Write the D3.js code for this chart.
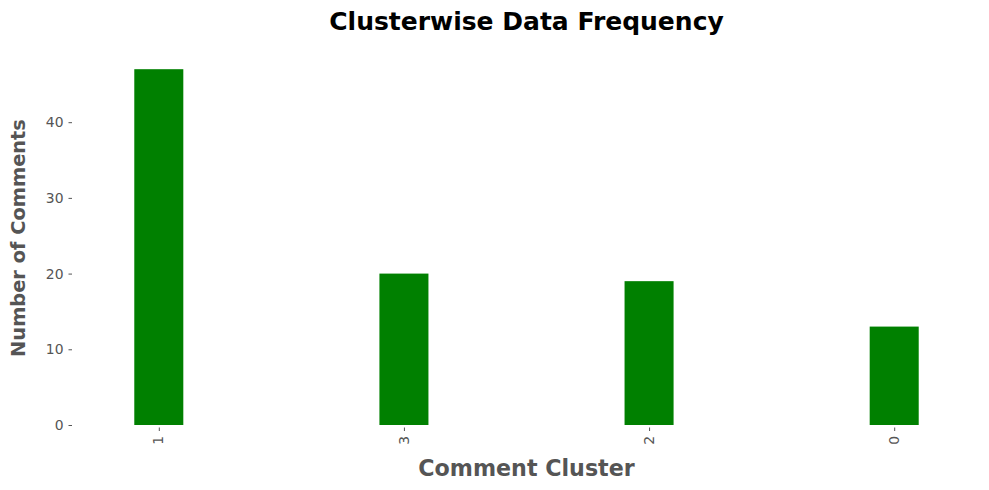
<!DOCTYPE html>
<html>
<head>
<meta charset="utf-8">
<script src="https://cdn.jsdelivr.net/npm/d3@7"></script>
<style>
  body { margin: 0; background: #fff; }
  svg text { font-family: "DejaVu Sans", sans-serif; }
</style>
</head>
<body>
<div id="chart"></div>
<script>
const clusters = ['1', '3', '2', '0'];
const counts = [47, 20, 19, 13];
const y_ticks = [0, 10, 20, 30, 40];

const width = 989,
      height = 490;
const margin = { left: 73, right: 9, top: 51.4, bottom: 65 };

let svg = d3.select('#chart').append('svg')
    .attr('width', width)
    .attr('height', height);

// positional scale like pandas bar plot: categories at 0..n-1, bar width 0.2
let x_pos = d3.scaleLinear()
    .domain([-0.35, clusters.length - 1 + 0.35])
    .range([margin.left, width - margin.right]);

let y_range = d3.scaleLinear()
    .domain([0, d3.max(counts) * 1.05])
    .range([height - margin.bottom, margin.top]);

const bar_w = 0.2;

svg.append('g')
    .selectAll('rect')
    .data(counts)
    .enter()
    .append('rect')
    .attr('x', (d, i) => x_pos(i - bar_w / 2))
    .attr('y', d => y_range(d))
    .attr('width', x_pos(bar_w) - x_pos(0))
    .attr('height', d => y_range(0) - y_range(d))
    .attr('fill', 'green');

// y axis
let y_axis = svg.append('g')
    .attr('transform', `translate(${margin.left - 1},0)`)
    .call(d3.axisLeft(y_range).tickValues(y_ticks).tickSize(3.5).tickPadding(5));
y_axis.select('.domain').remove();
y_axis.selectAll('line').attr('stroke', '#555');
y_axis.selectAll('text')
    .attr('fill', '#555')
    .style('font-size', '13.9px');

// x axis
let x_axis = svg.append('g')
    .attr('transform', `translate(0,${height - margin.bottom + 2.5})`)
    .call(d3.axisBottom(x_pos)
        .tickValues(d3.range(clusters.length))
        .tickFormat(i => clusters[i])
        .tickSize(3.5)
        .tickPadding(5));
x_axis.select('.domain').remove();
x_axis.selectAll('line').attr('stroke', '#555');
x_axis.selectAll('text')
    .attr('fill', '#555')
    .style('font-size', '13.9px')
    .attr('text-anchor', 'end')
    .attr('dy', '0.3em')
    .attr('transform', 'rotate(-90) translate(-8.5,0)')
    .attr('x', 0)
    .attr('y', 0);

// title and labels
svg.append('text')
    .attr('x', 526.5)
    .attr('y', 30)
    .attr('text-anchor', 'middle')
    .style('font-size', '25px')
    .style('font-weight', 'bold')
    .attr('fill', '#000')
    .text('Clusterwise Data Frequency');

svg.append('text')
    .attr('x', 526.5)
    .attr('y', 476)
    .attr('text-anchor', 'middle')
    .style('font-size', '22.2px')
    .style('font-weight', 'bold')
    .attr('fill', '#555')
    .text('Comment Cluster');

svg.append('text')
    .attr('transform', `translate(25,${238}) rotate(-90)`)
    .attr('text-anchor', 'middle')
    .style('font-size', '19.4px')
    .style('font-weight', 'bold')
    .attr('fill', '#555')
    .text('Number of Comments');
</script>
</body>
</html>
